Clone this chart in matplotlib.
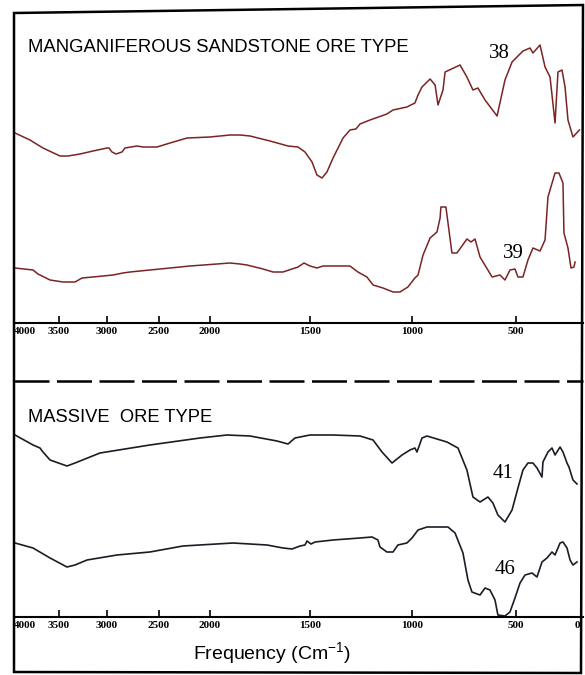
import numpy as np
import matplotlib
matplotlib.use('Agg')
import matplotlib.pyplot as plt
from matplotlib.lines import Line2D
from matplotlib.patches import Polygon

W, H = 585, 675

# IR spectra: wavenumber (cm-1) and trace height (arbitrary units above the axis)
wn_38 = [4000, 3830, 3682, 3490, 3406, 3281, 3146, 3000, 2981, 2952, 2913, 2856, 2827, 2712,
         2654, 2519, 2392, 2225, 2000, 1900, 1850, 1800, 1700, 1610, 1560, 1525, 1490, 1466,
         1441, 1417, 1387, 1338, 1304, 1275, 1255, 1206, 1123, 1093, 1025, 986, 971,
         952, 913, 889, 875, 851, 841, 769, 736, 707, 683, 649, 591, 553, 519, 443, 385,
         361, 303, 262, 221, 180, 156, 123, 98, 74, 33, -20]
t_38 = [190, 183, 175, 167, 167, 169, 172, 175, 175, 171, 169, 171, 175, 177,
        176, 176, 180, 185, 186, 188, 188, 187, 182, 177, 176, 171, 161, 148,
        145, 151, 165, 185, 193, 194, 199, 203, 209, 213, 216, 220, 228,
        236, 244, 238, 218, 233, 251, 258, 246, 233, 235, 223, 207, 243, 261, 272, 275,
        270, 278, 256, 246, 200, 251, 253, 236, 203, 186, 193]

wn_39 = [4000, 3795, 3739, 3602, 3458, 3333, 3260, 3146, 2942, 2846, 2779, 2490, 2196, 1965,
         1900, 1850, 1815, 1735, 1685, 1635, 1560, 1530, 1500, 1466, 1436, 1304, 1265, 1221,
         1191, 1142, 1093, 1059, 1020, 986, 971, 947, 913, 880, 865, 861,
         837, 808, 784, 736, 716, 697, 673, 615, 577, 553, 529, 505, 484, 443, 402, 361, 303,
         262, 238, 180, 148, 115, 107, 74, 49, 25, 16]
t_39 = [55, 53, 49, 43, 41, 41, 45, 46, 48, 50, 51, 54, 57, 59,
        60, 59, 58, 54, 51, 51, 56, 60, 57, 55, 57, 57, 51, 46,
        38, 35, 31, 31, 36, 45, 48, 68, 85, 91, 105, 116,
        116, 70, 70, 84, 81, 84, 66, 46, 48, 43, 53, 54, 46, 46, 63, 75, 72,
        83, 126, 150, 150, 140, 90, 75, 55, 56, 61]

wn_41 = [4000, 3795, 3716, 3682, 3602, 3417, 3333, 3073, 2588, 2098, 1915, 1800, 1665, 1610,
         1575, 1500, 1387, 1255, 1191, 1147, 1098, 1049, 1010, 986, 976, 952, 928, 832, 779,
         736, 707, 673, 635, 611, 587, 553, 519, 484, 443, 402, 361, 328, 287, 279, 238, 205,
         180, 139, 115, 82, 66, 33, 0]
t_41 = [182, 172, 169, 165, 157, 151, 154, 164, 172, 179, 182, 181, 176, 173,
        179, 182, 182, 181, 177, 165, 154, 162, 167, 169, 165, 179, 181, 175, 169,
        147, 120, 115, 120, 114, 102, 95, 107, 129, 147, 154, 154, 149, 140, 155, 165, 169,
        162, 170, 165, 154, 150, 137, 133]

wn_46 = [4000, 3795, 3602, 3417, 3333, 3208, 2904, 2588, 2265, 1885, 1715, 1635, 1590, 1550,
         1525, 1515, 1495, 1475, 1387, 1255, 1196, 1167, 1157, 1123, 1093, 1069, 1025, 1000,
         971, 928, 827, 793, 755, 731, 712, 673, 649, 625, 601, 587, 553, 529, 505, 467, 426,
         369, 328, 287, 246, 205, 180, 139, 115, 82, 57, 33, 0]
t_46 = [74, 69, 59, 50, 52, 57, 62, 65, 71, 74, 72, 69, 68, 71,
        72, 76, 73, 75, 77, 79, 80, 77, 70, 65, 65, 72, 74, 79,
        87, 90, 90, 84, 64, 37, 25, 22, 29, 27, 17, 2, 1, 5, 19, 34, 42,
        44, 40, 55, 59, 65, 62, 74, 75, 69, 57, 52, 55]

tick_values = [3500, 3000, 2500, 2000, 1500, 1000, 500]

# chart paper of the spectrometer: expanded scale below 2000 cm-1
scale_wn = [-1000, -50, 0, 500, 1000, 1500, 2000, 2500, 3000, 3500, 4000, 5000]
scale_pos = [-122, -6, 0, 61, 165, 267, 367, 418, 470, 518, 562, 650]


def fwd(x):
    return np.interp(x, scale_wn, scale_pos)


def inv(p):
    return np.interp(p, scale_pos, scale_wn)


def fig_box(x0, y0, x1, y1):
    return [x0 / W, 1 - y1 / H, (x1 - x0) / W, (y1 - y0) / H]


def fx(x):
    return x / W


def fy(y):
    return 1 - y / H


plt.rcParams['mathtext.fontset'] = 'custom'
plt.rcParams['mathtext.rm'] = 'Liberation Sans'
plt.rcParams['mathtext.it'] = 'Liberation Sans:italic'

fig = plt.figure(figsize=(W / 100, H / 100), dpi=100)
fig.patch.set_facecolor('white')

ax_top = fig.add_axes(fig_box(15, 15, 583, 323))
ax_bot = fig.add_axes(fig_box(15, 385, 583, 617))
ax_top.set_ylim(0, 308)
ax_bot.set_ylim(0, 232)

red = '#7a2424'
dark = '#1c1c26'
ax_top.plot(wn_38, t_38, color=red, lw=1.1, solid_joinstyle='round')
ax_top.plot(wn_39, t_39, color=red, lw=1.1, solid_joinstyle='round')
ax_bot.plot(wn_41, t_41, color=dark, lw=1.2, solid_joinstyle='round')
ax_bot.plot(wn_46, t_46, color=dark, lw=1.2, solid_joinstyle='round')

num_font = dict(fontfamily='Liberation Serif', fontsize=15)
ax_top.text(582, 269, '38', ha='center', va='center', **num_font)
ax_top.text(514, 70, '39', ha='center', va='center', **num_font)
ax_bot.text(562, 144, '41', ha='center', va='center', **num_font)
ax_bot.text(553, 48, '46', ha='center', va='center', **num_font)

tick_font = dict(fontfamily='Liberation Serif', fontweight='bold', fontsize=8)
for ax in (ax_top, ax_bot):
    ax.set_xscale('function', functions=(fwd, inv))
    ax.set_xlim(4000, -50)
    for s in ('left', 'right', 'top'):
        ax.spines[s].set_visible(False)
    ax.spines['bottom'].set_linewidth(1.5)
    ax.set_yticks([])
    ax.set_xticks(tick_values)
    ax.set_xticklabels([str(v) for v in tick_values], **tick_font)
    ax.tick_params(axis='x', direction='in', length=5, width=1.2, pad=3)
    ax.patch.set_alpha(0)
    ax.annotate('4000', xy=(4000, 0), xycoords=('data', 'axes fraction'),
                xytext=(-1, -3), textcoords='offset points', ha='left', va='top', **tick_font)

ax_bot.annotate('0', xy=(0, 0), xycoords=('data', 'axes fraction'),
                xytext=(0, -3), textcoords='offset points', ha='center', va='top', **tick_font)

# panel titles and axis label
fig.text(fx(28), fy(47), 'MANGANIFEROUS SANDSTONE ORE TYPE', fontfamily='Liberation Sans',
         fontsize=13.3, ha='left', va='center')
fig.text(fx(28), fy(417), 'MASSIVE  ORE TYPE', fontfamily='Liberation Sans',
         fontsize=13.2, ha='left', va='center')
fig.text(fx(272), fy(653), 'Frequency (Cm$^{-1}$)', fontfamily='Liberation Sans',
         fontsize=14, ha='center', va='center')

# dashed separator and outer frame
fig.add_artist(Line2D([fx(14), fx(583)], [fy(381), fy(381)], transform=fig.transFigure,
                      color='black', lw=1.8, ls=(0, (14, 3))))
frame = Polygon([(fx(14), fy(13)), (fx(583), fy(5)), (fx(581), fy(673)), (fx(14), fy(672))],
                closed=True, fill=False, lw=1.8, edgecolor='black', transform=fig.transFigure)
fig.add_artist(frame)

fig.savefig('out.png', dpi=100, facecolor='white')
